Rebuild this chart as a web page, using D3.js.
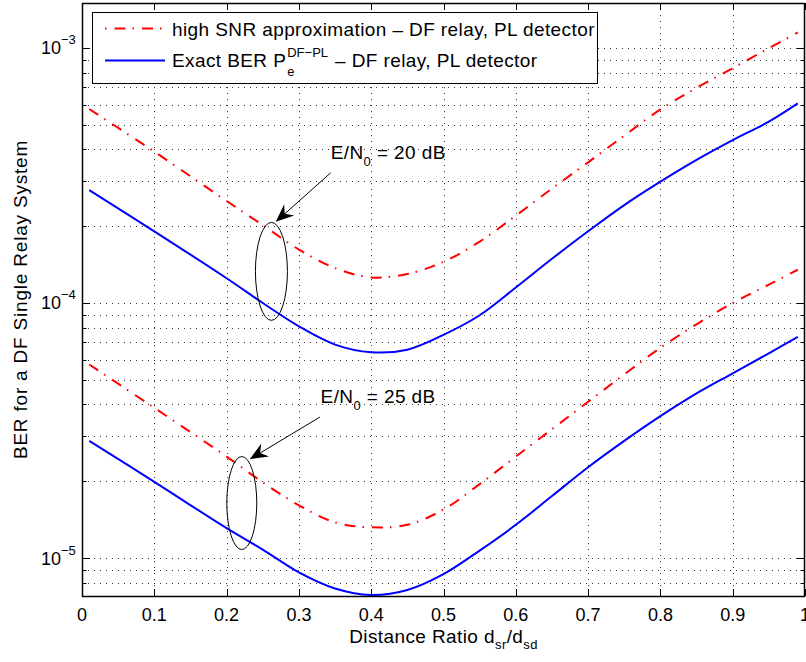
<!DOCTYPE html>
<html>
<head>
<meta charset="utf-8">
<script src="https://cdn.jsdelivr.net/npm/d3@7"></script>
<style>
  body { margin: 0; background: #fff; }
  text { font-family: "Liberation Sans", Arial, Helvetica, sans-serif; }
  .lbl { letter-spacing: 0.4px; }
</style>
</head>
<body>
<div id="plot"></div>
<script>
// distance ratio d_sr/d_sd sample points
const ratio = [0.01, 0.1, 0.2, 0.25, 0.3, 0.35, 0.4, 0.45, 0.5, 0.55, 0.6, 0.65, 0.7, 0.75, 0.8, 0.85, 0.9, 0.95, 0.99];

// E/N0 = 20 dB
const approx20 = [5.76e-4, 3.92e-4, 2.51e-4, 2.02e-4, 1.62e-4, 1.37e-4, 1.26e-4, 1.30e-4, 1.45e-4, 1.74e-4, 2.20e-4, 2.81e-4, 3.56e-4, 4.53e-4, 5.74e-4, 6.98e-4, 8.33e-4, 9.97e-4, 1.15e-3];
const exact20  = [2.77e-4, 1.91e-4, 1.25e-4, 1.00e-4, 8.10e-5, 6.87e-5, 6.41e-5, 6.56e-5, 7.50e-5, 8.95e-5, 1.15e-4, 1.49e-4, 1.91e-4, 2.42e-4, 2.99e-4, 3.64e-4, 4.35e-4, 5.14e-4, 6.06e-4];

// E/N0 = 25 dB
const approx25 = [5.74e-5, 3.88e-5, 2.50e-5, 1.98e-5, 1.61e-5, 1.38e-5, 1.32e-5, 1.35e-5, 1.55e-5, 1.95e-5, 2.50e-5, 3.20e-5, 4.10e-5, 5.25e-5, 6.67e-5, 8.25e-5, 1.00e-4, 1.18e-4, 1.35e-4];
const exact25  = [2.88e-5, 1.99e-5, 1.31e-5, 1.08e-5, 8.79e-6, 7.60e-6, 7.17e-6, 7.50e-6, 8.65e-6, 1.07e-5, 1.35e-5, 1.75e-5, 2.27e-5, 2.88e-5, 3.60e-5, 4.42e-5, 5.30e-5, 6.35e-5, 7.36e-5];

const xTicks = [0, 0.1, 0.2, 0.3, 0.4, 0.5, 0.6, 0.7, 0.8, 0.9, 1];
const legendLabels = ["high SNR approximation \u2013 DF relay, PL detector", "Exact BER P", "DF\u2212PL", "e", "\u2013 DF relay, PL detector"];
const snrLabels = ["20", "25"];

const W = 806, H = 662;
const pL = 82, pR = 805, pT = 3, pB = 596;
const fs = 19, tfs = 18, sfs = 13;

var svg = d3.select("div#plot").append("svg")
    .attr("width", W)
    .attr("height", H);

svg.append("rect").attr("width", W).attr("height", H).attr("fill", "#fff");

var x = d3.scaleLinear().domain([0, 1]).range([pL, pR]);
var y = d3.scaleLog().domain([7.1e-6, 1.5e-3]).range([pB, pT]);

var yTicks = y.ticks();
var isMajor = d => Math.abs(Math.log10(d) - Math.round(Math.log10(d))) < 1e-9;

// dotted grid
var grid = svg.append("g").attr("stroke", "#333").attr("stroke-width", 1).attr("stroke-dasharray", "1,5");
grid.selectAll(".vg").data(xTicks.filter(d => d > 0 && d < 1)).enter().append("line")
    .attr("x1", d => Math.round(x(d)) + 0.5).attr("x2", d => Math.round(x(d)) + 0.5)
    .attr("y1", pT).attr("y2", pB);
grid.selectAll(".hg").data(yTicks).enter().append("line")
    .attr("x1", pL).attr("x2", pR)
    .attr("y1", d => Math.round(y(d)) + 0.5).attr("y2", d => Math.round(y(d)) + 0.5);

// curves
svg.append("clipPath").attr("id", "clip").append("rect")
    .attr("x", pL).attr("y", pT).attr("width", pR - pL).attr("height", pB - pT);

var line = d3.line()
    .x((d, i) => x(ratio[i]))
    .y(d => y(d))
    .curve(d3.curveCatmullRom.alpha(0.5));

var series = [
  { vals: approx20, color: "#ff0000", dash: "11,7,1.5,8" },
  { vals: exact20,  color: "#0000ff", dash: null },
  { vals: approx25, color: "#ff0000", dash: "11,7,1.5,8" },
  { vals: exact25,  color: "#0000ff", dash: null }
];

svg.append("g").attr("clip-path", "url(#clip)")
  .selectAll("path").data(series).enter().append("path")
    .attr("d", d => line(d.vals))
    .attr("fill", "none")
    .attr("stroke", d => d.color)
    .attr("stroke-width", 2)
    .attr("stroke-dasharray", d => d.dash);

// annotations: ellipse + arrow + label (anchored in data units)
var notes = [
  { label: snrLabels[0], tx: 0.344, ty: 3.66e-4, ax: 0.344, ay: 3.24e-4, bx: 0.268, by: 2.08e-4, ex: 0.262, eyTop: 2.07e-4, eyBot: 8.55e-5, rx: 16 },
  { label: snrLabels[1], tx: 0.330, ty: 4.04e-5, ax: 0.329, ay: 3.57e-5, bx: 0.232, by: 2.44e-5, ex: 0.221, eyTop: 2.50e-5, eyBot: 1.08e-5, rx: 15 }
];

notes.forEach(function(n) {
  var cy = (y(n.eyTop) + y(n.eyBot)) / 2;
  svg.append("ellipse")
    .attr("cx", x(n.ex)).attr("cy", cy)
    .attr("rx", n.rx).attr("ry", (y(n.eyBot) - y(n.eyTop)) / 2)
    .attr("fill", "none").attr("stroke", "#000").attr("stroke-width", 1);

  var x0 = x(n.ax), y0 = y(n.ay), x1 = x(n.bx), y1 = y(n.by);
  var ang = Math.atan2(y1 - y0, x1 - x0);
  var L = 18, hw = 7.5, notch = 12;
  var len = Math.hypot(x1 - x0, y1 - y0);
  svg.append("line")
    .attr("x1", x0).attr("y1", y0)
    .attr("x2", x0 + Math.cos(ang) * (len - notch)).attr("y2", y0 + Math.sin(ang) * (len - notch))
    .attr("stroke", "#000").attr("stroke-width", 1);
  svg.append("path")
    .attr("d", "M0,0 L" + (-L) + "," + (-hw) + " L" + (-notch) + ",0 L" + (-L) + "," + hw + " Z")
    .attr("transform", "translate(" + x1 + "," + y1 + ") rotate(" + (ang * 180 / Math.PI) + ")")
    .attr("fill", "#000");

  var t = svg.append("text").attr("class", "lbl").attr("x", x(n.tx)).attr("y", y(n.ty)).attr("font-size", fs);
  t.append("tspan").text("E/N");
  t.append("tspan").attr("dy", 7).attr("font-size", sfs).text("0");
  t.append("tspan").attr("dy", -7).text(" = " + n.label + " dB");
});

// axes box and ticks
var ax = svg.append("g").attr("stroke", "#000").attr("stroke-width", 1);
ax.append("rect").attr("x", pL + 0.5).attr("y", pT + 0.5)
  .attr("width", pR - pL - 1).attr("height", pB - pT)
  .attr("fill", "none").attr("stroke-width", 1.5);

ax.selectAll(".xt").data(xTicks).enter().append("path")
  .attr("d", d => { var px = Math.round(x(d)) + 0.5; return "M" + px + "," + pB + "v-7M" + px + "," + pT + "v7"; });

ax.selectAll(".yt").data(yTicks).enter().append("path")
  .attr("d", d => { var py = Math.round(y(d)) + 0.5; var l = isMajor(d) ? 8 : 4.5;
    return "M" + pL + "," + py + "h" + l + "M" + pR + "," + py + "h" + (-l); });

// x tick labels
svg.selectAll(".xl").data(xTicks).enter().append("text")
  .attr("x", d => x(d)).attr("y", 621)
  .attr("text-anchor", "middle").attr("font-size", tfs)
  .text(d => d3.format("")(d));

// y tick labels (decades)
svg.selectAll(".yl").data(yTicks.filter(isMajor)).enter().append("text")
  .attr("x", 41).attr("y", d => y(d) + 6.5)
  .attr("font-size", tfs)
  .each(function(d) {
    var s = d3.select(this);
    s.append("tspan").text("10");
    s.append("tspan").attr("dy", -10).attr("font-size", sfs).text("\u2212" + Math.round(-Math.log10(d)));
  });

// axis titles
var xl = svg.append("text").attr("class", "lbl").attr("x", (pL + pR) / 2).attr("y", 643)
  .attr("text-anchor", "middle").attr("font-size", fs);
xl.append("tspan").text("Distance Ratio d");
xl.append("tspan").attr("dy", 6).attr("font-size", sfs).text("sr");
xl.append("tspan").attr("dy", -6).text("/d");
xl.append("tspan").attr("dy", 6).attr("font-size", sfs).text("sd");

svg.append("text")
  .attr("transform", "translate(27," + (pT + pB) / 2 + ") rotate(-90)")
  .attr("text-anchor", "middle").attr("font-size", fs)
  .attr("letter-spacing", "0.8px")
  .text("BER for a DF Single Relay System");

// legend
var lg = svg.append("g");
lg.append("rect").attr("x", 92.5).attr("y", 12.5).attr("width", 505).attr("height", 71)
  .attr("fill", "#fff").attr("stroke", "#000").attr("stroke-width", 1);
lg.append("line").attr("x1", 105).attr("x2", 165).attr("y1", 28.5).attr("y2", 28.5)
  .attr("stroke", "#ff0000").attr("stroke-width", 2).attr("stroke-dasharray", "1.5,8,11,7");
lg.append("line").attr("x1", 105).attr("x2", 165).attr("y1", 60.5).attr("y2", 60.5)
  .attr("stroke", "#0000ff").attr("stroke-width", 2);
lg.append("text").attr("class", "lbl").attr("x", 172).attr("y", 36).attr("font-size", fs).text(legendLabels[0]);

var t1 = lg.append("text").attr("class", "lbl").attr("x", 172).attr("y", 67).attr("font-size", fs).text(legendLabels[1]);
var px = 172 + t1.node().getComputedTextLength() + 1;
var sup = lg.append("text").attr("x", px).attr("y", 57).attr("font-size", sfs).text(legendLabels[2]);
lg.append("text").attr("x", px).attr("y", 76).attr("font-size", sfs).text(legendLabels[3]);
lg.append("text").attr("class", "lbl").attr("x", px + sup.node().getComputedTextLength() + 7).attr("y", 67)
  .attr("font-size", fs).text(legendLabels[4]);
</script>
</body>
</html>
